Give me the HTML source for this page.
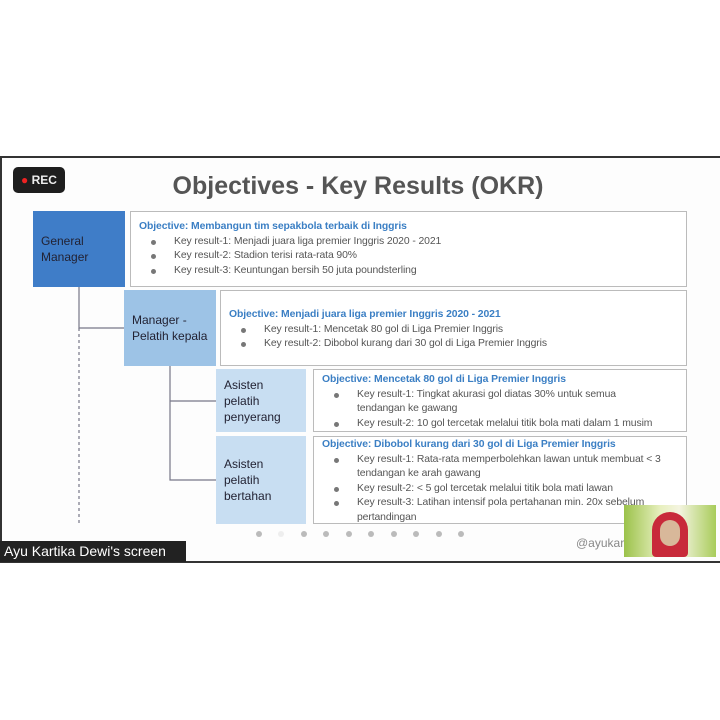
<!DOCTYPE html>
<html><head><style>
body{margin:0;width:720px;height:720px;background:#fff;position:relative;overflow:hidden;font-family:"Liberation Sans",sans-serif}
.a{position:absolute;box-sizing:border-box}
.ob{border:1px solid #bbb;background:#fff;font-size:10.4px;color:#555;line-height:14.5px;padding:8px 24px 0 8px;letter-spacing:-0.1px}
.ob b{color:#3b7fc4;font-weight:bold}
.ob div{padding-left:35px;position:relative}
.ob div:before{content:"";width:5px;height:5px;border-radius:50%;background:#777;position:absolute;left:12px;top:5px}
.r{font-size:12px;color:#223;line-height:16px;padding:0 0 0 8px;display:flex;align-items:center}
</style></head><body>
<div class="a" style="left:0;top:156px;width:720px;height:407px;border-top:2px solid #333;border-bottom:2px solid #333;border-left:2px solid #333;background:#fdfdfd"></div>
<div class="a" style="left:13px;top:167px;width:52px;height:26px;background:#1e1e1e;border-radius:5px;color:#eee;font-size:12px;font-weight:bold;padding:6px 0 0 8px"><span style="color:#e22">●</span> REC</div>
<div class="a" style="left:0;top:172px;width:716px;text-align:center;font-size:25px;font-weight:bold;color:#555">Objectives - Key Results (OKR)</div>
<div class="a r" style="left:33px;top:211px;width:92px;height:76px;background:#3f7dc8">General<br>Manager</div>
<div class="a ob" style="left:130px;top:211px;width:557px;height:76px"><b>Objective: Membangun tim sepakbola terbaik di Inggris</b><div>Key result-1: Menjadi juara liga premier Inggris 2020 - 2021</div><div>Key result-2: Stadion terisi rata-rata 90%</div><div>Key result-3: Keuntungan bersih 50 juta poundsterling</div></div>
<div class="a r" style="left:124px;top:290px;width:92px;height:76px;background:#9dc3e6">Manager -<br>Pelatih kepala</div>
<div class="a ob" style="left:220px;top:290px;width:467px;height:76px;padding-top:17px"><b>Objective: Menjadi juara liga premier Inggris 2020 - 2021</b><div>Key result-1: Mencetak 80 gol di Liga Premier Inggris</div><div>Key result-2: Dibobol kurang dari 30 gol di Liga Premier Inggris</div></div>
<div class="a r" style="left:216px;top:369px;width:90px;height:63px;background:#c8def2">Asisten<br>pelatih<br>penyerang</div>
<div class="a ob" style="left:313px;top:369px;width:374px;height:63px;padding-top:3px"><b>Objective: Mencetak 80 gol di Liga Premier Inggris</b><div>Key result-1: Tingkat akurasi gol diatas 30% untuk semua tendangan ke gawang</div><div>Key result-2: 10 gol tercetak melalui titik bola mati dalam 1 musim</div></div>
<div class="a r" style="left:216px;top:436px;width:90px;height:88px;background:#c8def2">Asisten<br>pelatih<br>bertahan</div>
<div class="a ob" style="left:313px;top:436px;width:374px;height:88px;padding-top:1px"><b>Objective: Dibobol kurang dari 30 gol di Liga Premier Inggris</b><div>Key result-1: Rata-rata memperbolehkan lawan untuk membuat &lt; 3 tendangan ke arah gawang</div><div>Key result-2: &lt; 5 gol tercetak melalui titik bola mati lawan</div><div>Key result-3: Latihan intensif pola pertahanan min. 20x sebelum pertandingan</div></div>
<svg class="a" style="left:0;top:0" width="720" height="720">
<g stroke="#778" stroke-width="1.2" fill="none">
<path d="M79 287V328H124M170 366V480H216M170 401H216"/>
<path d="M79 328V524" stroke-dasharray="3 3"/>
</g>
<g fill="#bbb"><circle cx="259" cy="534" r="3"/><circle cx="281" cy="534" r="3" fill="#eee"/><circle cx="304" cy="534" r="3"/><circle cx="326" cy="534" r="3"/><circle cx="349" cy="534" r="3"/><circle cx="371" cy="534" r="3"/><circle cx="394" cy="534" r="3"/><circle cx="416" cy="534" r="3"/><circle cx="439" cy="534" r="3"/><circle cx="461" cy="534" r="3"/></g>
</svg>
<div class="a" style="left:576px;top:536px;font-size:12px;color:#888">@ayukar</div>
<div class="a" style="left:624px;top:505px;width:92px;height:52px;background:linear-gradient(90deg,#9bc24a,#e8f0c0 40%,#f4f4e0 60%,#a8cc5a)"></div>
<div class="a" style="left:652px;top:512px;width:36px;height:45px;background:#c82a3a;border-radius:18px 18px 4px 4px"></div>
<div class="a" style="left:660px;top:520px;width:20px;height:26px;background:#d8b89a;border-radius:10px"></div>
<div class="a" style="left:0;top:541px;width:186px;height:21px;background:#222;color:#fff;font-size:14px;padding:2px 0 0 4px">Ayu Kartika Dewi's screen</div>
</body></html>
